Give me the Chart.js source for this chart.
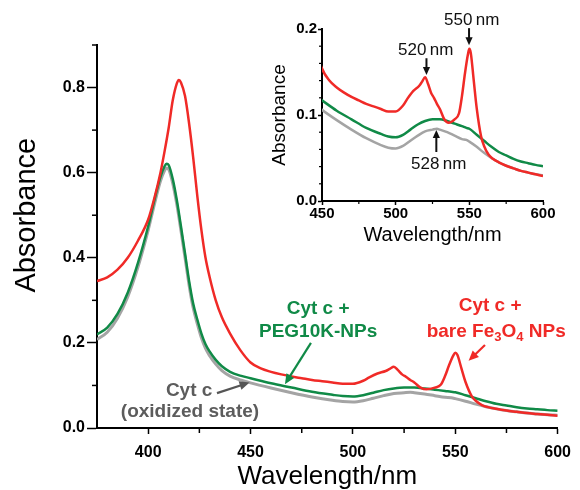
<!DOCTYPE html>
<html>
<head>
<meta charset="utf-8">
<script src="https://cdn.jsdelivr.net/npm/chart.js@4.4.0/dist/chart.umd.min.js"></script>
<style>
  html, body { margin: 0; padding: 0; background: #fff; }
  #wrap { position: relative; width: 580px; height: 490px; }
  #main { position: absolute; left: 0; top: 0; }
  #inset { position: absolute; left: 255px; top: 0; }
</style>
</head>
<body>
<div id="wrap">
  <canvas id="main" width="580" height="490"></canvas>
  <canvas id="inset" width="325" height="250"></canvas>
</div>
<script>
// Cyt c + bare Fe3O4 NPs (red)
const nmRed = [375,380,385,390,395,400,403,406,408,410,412,414,415,416,418,420,422,424,426,428,430,433,436,440,445,450,455,460,465,470,475,480,485,490,495,500,505,508,512,516,518,520,522,524,526,528,530,533,536,540,543,545,547,549,550,551,553,555,558,560,563,566,570,575,580,585,590,595,600];
const absRed = [0.345,0.354,0.372,0.400,0.440,0.490,0.540,0.600,0.650,0.705,0.770,0.810,0.818,0.812,0.780,0.715,0.635,0.545,0.465,0.400,0.355,0.300,0.260,0.222,0.183,0.154,0.140,0.132,0.126,0.121,0.117,0.113,0.110,0.107,0.104,0.104,0.111,0.119,0.128,0.134,0.139,0.144,0.136,0.126,0.120,0.113,0.107,0.095,0.091,0.095,0.102,0.122,0.148,0.170,0.177,0.172,0.140,0.108,0.075,0.064,0.054,0.049,0.045,0.041,0.038,0.035,0.033,0.031,0.029];

// Cyt c + PEG10K-NPs (green) and Cyt c oxidized (gray)
const nmCyt = [375,380,385,390,395,400,403,406,408,409,410,412,414,416,418,420,422,424,426,428,430,433,436,440,445,450,460,470,480,490,495,500,505,510,515,520,525,528,530,535,540,545,548,550,555,560,565,570,575,580,585,590,595,600];
const absGreen = [0.220,0.236,0.268,0.318,0.388,0.474,0.535,0.590,0.615,0.621,0.618,0.585,0.535,0.474,0.410,0.345,0.292,0.255,0.222,0.197,0.180,0.160,0.145,0.132,0.123,0.117,0.105,0.095,0.085,0.078,0.075,0.074,0.077,0.083,0.089,0.093,0.095,0.095,0.095,0.093,0.090,0.087,0.085,0.084,0.077,0.070,0.063,0.057,0.053,0.049,0.046,0.044,0.042,0.0405];
const absGray = [0.208,0.225,0.258,0.308,0.378,0.465,0.525,0.580,0.605,0.611,0.608,0.575,0.525,0.464,0.400,0.335,0.282,0.245,0.212,0.187,0.170,0.150,0.135,0.122,0.113,0.106,0.094,0.083,0.073,0.065,0.062,0.061,0.064,0.070,0.076,0.081,0.083,0.084,0.083,0.080,0.076,0.072,0.071,0.069,0.063,0.056,0.050,0.045,0.041,0.038,0.035,0.033,0.031,0.030];

// minor tick positions
const mainMinorX = [425,475,525,575];
const mainMinorY = [0.1,0.3,0.5,0.7,0.9];
const insetMinorX = [475,525,575];
const insetMinorY = [0.02,0.04,0.06,0.08,0.12,0.14,0.16,0.18];

const RED = '#f02a27';
const GREEN = '#108a47';
const GRAY = '#a4a4a4';
const GRAYTXT = '#5c5c5c';
const FONT = "'Liberation Sans', Arial, sans-serif";

// annotations (data coordinates)
const mainLabels = [
  { x: 483, y: 0.280, parts: ['Cyt c +'], color: GREEN },
  { x: 483, y: 0.226, parts: ['PEG10K-NPs'], color: GREEN },
  { x: 567, y: 0.287, parts: ['Cyt c +'], color: RED },
  { x: 570, y: 0.226, parts: ['bare Fe', ['3'], 'O', ['4'], ' NPs'], color: RED },
  { x: 420, y: 0.087, parts: ['Cyt c'], color: GRAYTXT },
  { x: 420.4, y: 0.038, parts: ['(oxidized state)'], color: GRAYTXT }
];
const mainArrows = [
  { from: [479.5, 0.200], to: [466.8, 0.103], color: GREEN },
  { from: [564.5, 0.195], to: [556.5, 0.158], color: RED },
  { from: [433.6, 0.082], to: [449.5, 0.107], color: '#555' }
];
const insetLabels = [
  { x: 551.6, y: 0.2105, parts: ['550\u2009nm'], color: '#111' },
  { x: 520.4, y: 0.1756, parts: ['520\u2009nm'], color: '#111' },
  { x: 529.2, y: 0.043, parts: ['528\u2009nm'], color: '#111' }
];
const insetArrows = [
  { from: [549.8, 0.201], to: [549.8, 0.181], color: '#111' },
  { from: [520.9, 0.166], to: [520.9, 0.1465], color: '#111' },
  { from: [527.6, 0.057], to: [527.6, 0.0826], color: '#111' }
];

const pts = (xs, ys) => xs.map((x, i) => ({ x: x, y: ys[i] }));

function series(label, xs, ys, color, width) {
  return {
    label: label,
    data: pts(xs, ys),
    borderColor: color,
    borderWidth: width,
    pointRadius: 0,
    fill: false,
    cubicInterpolationMode: 'monotone'
  };
}

// short ticks between the labelled ones
const minorTicks = {
  id: 'minorTicks',
  afterDraw(chart, args, opts) {
    const ctx = chart.ctx, area = chart.chartArea;
    ctx.save();
    ctx.strokeStyle = '#000';
    ctx.lineWidth = opts.width;
    opts.x.forEach(v => {
      const px = chart.scales.x.getPixelForValue(v);
      ctx.beginPath();
      ctx.moveTo(px, area.bottom);
      ctx.lineTo(px, area.bottom + opts.len);
      ctx.stroke();
    });
    opts.y.forEach(v => {
      const py = chart.scales.y.getPixelForValue(v);
      ctx.beginPath();
      ctx.moveTo(area.left, py);
      ctx.lineTo(area.left - opts.len, py);
      ctx.stroke();
    });
    ctx.restore();
  }
};

// text labels, arrows and (optionally) a y title
const notes = {
  id: 'notes',
  afterDraw(chart, args, opts) {
    const ctx = chart.ctx, sx = chart.scales.x, sy = chart.scales.y;
    ctx.save();
    opts.labels.forEach(l => {
      const main = opts.font;
      const sub = opts.subFont;
      let w = 0;
      l.parts.forEach(p => {
        ctx.font = Array.isArray(p) ? sub : main;
        w += ctx.measureText(Array.isArray(p) ? p[0] : p).width;
      });
      let px = sx.getPixelForValue(l.x) - w / 2;
      const py = sy.getPixelForValue(l.y);
      ctx.fillStyle = l.color;
      ctx.textAlign = 'left';
      ctx.textBaseline = 'middle';
      l.parts.forEach(p => {
        const isSub = Array.isArray(p);
        const t = isSub ? p[0] : p;
        ctx.font = isSub ? sub : main;
        ctx.fillText(t, px, isSub ? py + opts.subShift : py);
        px += ctx.measureText(t).width;
      });
    });
    opts.arrows.forEach(a => {
      const x0 = sx.getPixelForValue(a.from[0]), y0 = sy.getPixelForValue(a.from[1]);
      const x1 = sx.getPixelForValue(a.to[0]), y1 = sy.getPixelForValue(a.to[1]);
      const ang = Math.atan2(y1 - y0, x1 - x0);
      const hl = opts.head, hw = opts.head * 0.45;
      ctx.strokeStyle = a.color;
      ctx.fillStyle = a.color;
      ctx.lineWidth = opts.lineWidth;
      ctx.beginPath();
      ctx.moveTo(x0, y0);
      ctx.lineTo(x1 - Math.cos(ang) * hl * 0.8, y1 - Math.sin(ang) * hl * 0.8);
      ctx.stroke();
      ctx.beginPath();
      ctx.moveTo(x1, y1);
      ctx.lineTo(x1 - Math.cos(ang) * hl - Math.sin(ang) * hw, y1 - Math.sin(ang) * hl + Math.cos(ang) * hw);
      ctx.lineTo(x1 - Math.cos(ang) * hl + Math.sin(ang) * hw, y1 - Math.sin(ang) * hl - Math.cos(ang) * hw);
      ctx.closePath();
      ctx.fill();
    });
    if (opts.yTitle) {
      const t = opts.yTitle;
      ctx.translate(t.px, sy.getPixelForValue(t.at));
      ctx.rotate(-Math.PI / 2);
      ctx.font = t.font;
      ctx.fillStyle = '#000';
      ctx.textAlign = 'center';
      ctx.textBaseline = 'middle';
      ctx.fillText(t.text, 0, 0);
    }
    ctx.restore();
  }
};

Chart.register(minorTicks, notes);

function axis(o) {
  return {
    type: 'linear',
    min: o.min,
    max: o.max,
    afterFit: o.fit,
    border: { display: true, color: '#000', width: 2 },
    grid: { display: true, drawOnChartArea: false, drawTicks: true, tickLength: o.tickLength, tickColor: '#000', tickWidth: 1.5 },
    ticks: {
      stepSize: o.step,
      includeBounds: false,
      color: '#000',
      padding: o.pad,
      font: { family: FONT, size: o.tickSize, weight: 'bold' },
      callback: o.fmt
    },
    title: {
      display: !!o.title,
      text: o.title || '',
      color: '#000',
      padding: o.titlePad,
      font: { family: FONT, size: o.titleSize, lineHeight: 1 }
    }
  };
}

new Chart(document.getElementById('main'), {
  type: 'line',
  data: {
    datasets: [
      series('Cyt c + bare Fe3O4 NPs', nmRed, absRed, RED, 2.5),
      series('Cyt c + PEG10K-NPs', nmCyt, absGreen, GREEN, 2.5),
      series('Cyt c (oxidized state)', nmCyt, absGray, GRAY, 3)
    ]
  },
  options: {
    responsive: false,
    animation: false,
    devicePixelRatio: 1,
    layout: { padding: { left: 0, right: 22, top: 45, bottom: 0 } },
    scales: {
      x: axis({ min: 375, max: 600, step: 50, tickLength: 6, pad: 9, tickSize: 16,
        fmt: v => v, title: 'Wavelength/nm', titleSize: 26, titlePad: { top: 0, bottom: 0 },
        fit: s => { s.height = 62; } }),
      y: axis({ min: 0, max: 0.9, step: 0.2, tickLength: 10, pad: 2, tickSize: 16,
        fmt: v => v.toFixed(1), title: '', titleSize: 27, titlePad: 0,
        fit: s => { s.width = 97; } })
    },
    plugins: {
      legend: { display: false },
      tooltip: { enabled: false },
      minorTicks: { x: mainMinorX, y: mainMinorY, len: 5, width: 1.5 },
      notes: {
        labels: mainLabels, arrows: mainArrows,
        font: 'bold 19px ' + FONT, subFont: 'bold 13px ' + FONT, subShift: 6,
        lineWidth: 2.2, head: 10,
        yTitle: { text: 'Absorbance', font: '29px ' + FONT, px: 27, at: 0.5 }
      }
    }
  }
});

new Chart(document.getElementById('inset'), {
  type: 'line',
  data: {
    datasets: [
      series('Cyt c + bare Fe3O4 NPs', nmRed, absRed, RED, 2.5),
      series('Cyt c + PEG10K-NPs', nmCyt, absGreen, GREEN, 2.5),
      series('Cyt c (oxidized state)', nmCyt, absGray, GRAY, 2.5)
    ]
  },
  options: {
    responsive: false,
    animation: false,
    devicePixelRatio: 1,
    layout: { padding: { left: 0, right: 37, top: 29, bottom: 0 } },
    scales: {
      x: axis({ min: 450, max: 600, step: 50, tickLength: 4, pad: 0, tickSize: 15,
        fmt: v => v, title: 'Wavelength/nm', titleSize: 20, titlePad: { top: 0, bottom: 5 },
        fit: s => { s.height = 49; } }),
      y: axis({ min: 0, max: 0.2, step: 0.1, tickLength: 4, pad: 1, tickSize: 15,
        fmt: v => v.toFixed(1), title: 'Absorbance', titleSize: 19, titlePad: { top: 15, bottom: 0 },
        fit: s => { s.width = 67; } })
    },
    plugins: {
      legend: { display: false },
      tooltip: { enabled: false },
      minorTicks: { x: insetMinorX, y: insetMinorY, len: 3, width: 1.2 },
      notes: {
        labels: insetLabels, arrows: insetArrows,
        font: '17px ' + FONT, subFont: '12px ' + FONT, subShift: 5,
        lineWidth: 2, head: 8
      }
    }
  }
});
</script>
</body>
</html>
